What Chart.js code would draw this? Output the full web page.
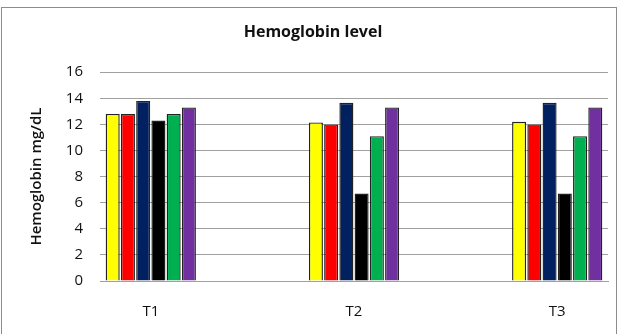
<!DOCTYPE html>
<html>
<head>
<meta charset="utf-8">
<script src="https://cdn.jsdelivr.net/npm/chart.js@4"></script>
<style>
  html, body { margin: 0; padding: 0; background: #fff; }
  #wrap { position: relative; width: 618px; height: 334px; overflow: hidden; }
  #frame { position: absolute; left: 1px; top: 7px; width: 614px; height: 340px; border: 1px solid #8c8c8c; }
  canvas { position: absolute; left: 0; top: 0; }
</style>
</head>
<body>
<div id="wrap">
  <div id="frame"></div>
  <canvas id="hb" width="618" height="334"></canvas>
</div>
<script>
  // categories on the x axis
  var categories = ['T1', 'T2', 'T3'];
  var yTicks = [0, 2, 4, 6, 8, 10, 12, 14, 16];

  // one series per bar colour (no legend in the original)
  var seriesNames = ['Series 1', 'Series 2', 'Series 3', 'Series 4', 'Series 5', 'Series 6'];
  var seriesColors = ['#ffff00', '#ff0000', '#002060', '#000000', '#00b050', '#7030a0'];

  var s1 = [12.8, 12.15, 12.2];
  var s2 = [12.8, 12.0, 12.0];
  var s3 = [13.8, 13.65, 13.65];
  var s4 = [12.3, 6.7, 6.7];
  var s5 = [12.8, 11.1, 11.1];
  var s6 = [13.3, 13.3, 13.3];
  var seriesValues = [s1, s2, s3, s4, s5, s6];

  var FONT = '"Open Sans", Lato, sans-serif';

  var datasets = seriesValues.map(function (vals, i) {
    return {
      label: seriesNames[i],
      data: vals.map(function (v, j) { return { x: j, y: v }; }),
      backgroundColor: seriesColors[i],
      borderColor: '#222',
      borderWidth: 1.4,
      categoryPercentage: 0.45,
      barPercentage: 0.92
    };
  });

  new Chart(document.getElementById('hb'), {
    type: 'bar',
    data: { datasets: datasets },
    options: {
      responsive: false,
      animation: false,
      layout: { padding: { left: 8, right: 0, top: 0, bottom: 0 } },
      plugins: {
        legend: { display: false },
        tooltip: { enabled: false },
        title: {
          display: true,
          text: 'Hemoglobin level',
          color: '#111',
          font: { family: FONT, size: 16, weight: 'bold', lineHeight: 1.2 },
          padding: { top: 23, bottom: 30 }
        }
      },
      scales: {
        x: {
          type: 'linear',
          offset: false,
          min: -0.25,
          max: categories.length - 0.75,
          afterBuildTicks: function (scale) {
            scale.ticks = categories.map(function (c, i) { return { value: i }; });
          },
          afterFit: function (scale) { scale.height = 53; },
          grid: { display: false, drawTicks: false, offset: false },
          border: { display: true, color: '#a0a0a0', width: 1 },
          ticks: {
            padding: 22,
            color: '#111',
            font: { family: FONT, size: 15 },
            callback: function (v) { return categories[v]; }
          }
        },
        y: {
          min: 0,
          max: 16,
          afterBuildTicks: function (scale) {
            scale.ticks = yTicks.map(function (v) { return { value: v }; });
          },
          afterFit: function (scale) { scale.width = 92; },
          grid: { color: '#a0a0a0', drawTicks: false, lineWidth: 1 },
          border: { display: false },
          ticks: {
            padding: 17,
            color: '#111',
            font: { family: FONT, size: 15 }
          },
          title: {
            display: true,
            text: 'Hemoglobin mg/dL',
            color: '#111',
            font: { family: FONT, size: 15, weight: '600', lineHeight: 1.2 },
            padding: { top: 20, bottom: 0 }
          }
        },
        // empty right-hand spacer so the plot stops short of the frame
        yRight: {
          position: 'right',
          display: true,
          min: 0,
          max: 16,
          afterFit: function (scale) { scale.width = 10; },
          grid: { display: false, drawTicks: false },
          border: { display: false },
          ticks: { display: false }
        }
      }
    }
  });
</script>
</body>
</html>
